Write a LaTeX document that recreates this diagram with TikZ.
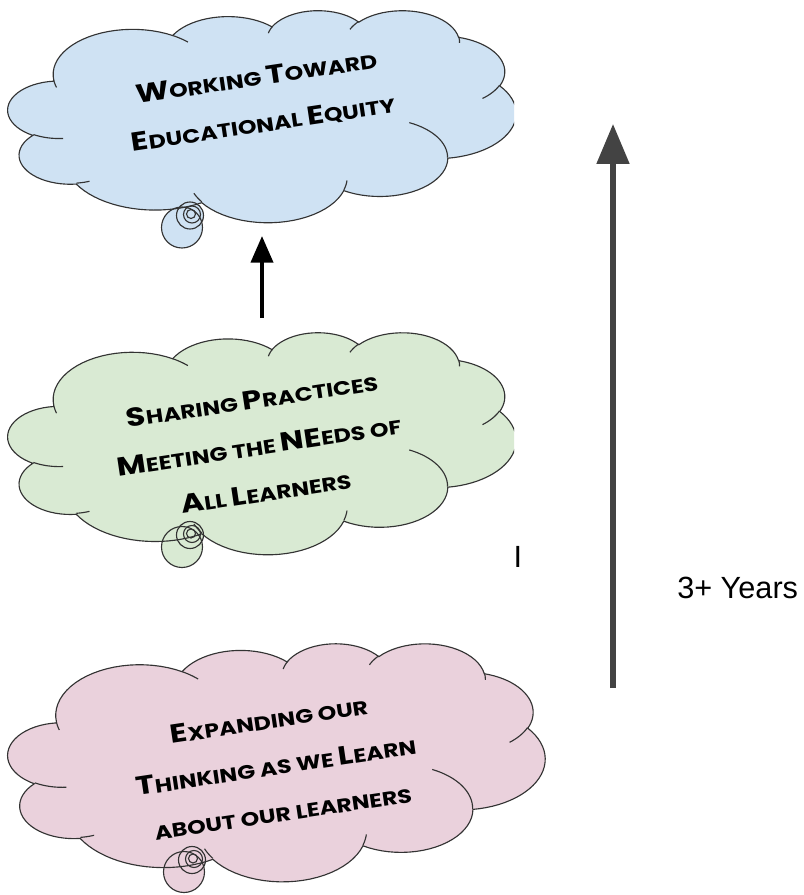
\documentclass[tikz,border=0pt]{standalone}
\usepackage{fontspec}
\setmainfont{Liberation Sans}
\newfontfamily\handfont{Poppins}
\usetikzlibrary{arrows.meta,calc}

\definecolor{cblue}{HTML}{CFE2F3}
\definecolor{cgreen}{HTML}{D9EAD3}
\definecolor{cpink}{HTML}{EAD1DC}
\definecolor{arrowgray}{HTML}{434343}
\definecolor{outl}{HTML}{333333}

% ---- cloud outline builder (OOXML cloud geometry, units = 1/100 of 43200 box) ----
\newcommand\cldstart[2]{\xdef\cldx{#1}\xdef\cldy{#2}\xdef\cldpath{\cldpath (#1,#2)}}
\newcommand\cldarc[5]{% wR hR stAng swAng samples
  \pgfmathsetmacro\cldta{atan2((#1)*sin(#3),(#2)*cos(#3))}%
  \pgfmathsetmacro\cldtb{atan2((#1)*sin((#3)+(#4)),(#2)*cos((#3)+(#4)))}%
  \pgfmathsetmacro\cldd{\cldtb-\cldta}%
  \pgfmathsetmacro\cldd{((#4)>0 && \cldd<0) ? \cldd+360 : (((#4)<0 && \cldd>0) ? \cldd-360 : \cldd)}%
  \pgfmathsetmacro\cldcx{\cldx-(#1)*cos(\cldta)}%
  \pgfmathsetmacro\cldcy{\cldy-(#2)*sin(\cldta)}%
  \foreach \k in {1,...,#5}{%
    \pgfmathsetmacro\cldt{\cldta+\cldd*\k/#5}%
    \pgfmathsetmacro\cldpx{\cldcx+(#1)*cos(\cldt)}%
    \pgfmathsetmacro\cldpy{\cldcy+(#2)*sin(\cldt)}%
    \xdef\cldpath{\cldpath -- (\cldpx,\cldpy)}%
  }%
  \pgfmathsetmacro\cldnx{\cldcx+(#1)*cos(\cldta+\cldd)}%
  \pgfmathsetmacro\cldny{\cldcy+(#2)*sin(\cldta+\cldd)}%
  \xdef\cldx{\cldnx}\xdef\cldy{\cldny}%
}

\xdef\cldpath{}
\cldstart{39}{143.7}
\cldarc{67.53}{91.90}{-190.48748}{123.78053}{24}
\cldarc{53.33}{72.67}{-144.10238}{89.94523}{20}
\cldarc{43.65}{59.45}{-145.80792}{99.72302}{20}
\cldarc{48.57}{65.95}{-130.98607}{117.24173}{22}
\cldarc{53.33}{72.73}{-78.70888}{109.02692}{22}
\cldarc{67.75}{92.20}{-46.26725}{130.269}{26}
\cldarc{57.85}{78.67}{0.62502}{114.03333}{22}
\cldarc{67.52}{92.15}{22.4516}{115.17255}{24}
\cldarc{77.20}{105.43}{66.24263}{75.71102}{20}
\cldarc{43.60}{59.18}{-274.94208}{146.73557}{24}
\cldarc{43.45}{59.45}{-246.8285}{152.51885}{24}
\global\let\cloudouter\cldpath

\xdef\cldpath{}
\cldstart{46.93}{261.77}\cldarc{43.45}{59.45}{86.742}{26.4295}{8}
\cldstart{69.28}{348.99}\cldarc{43.60}{59.18}{73.61047}{11.44747}{6}
\cldstart{164.78}{390.90}\cldarc{67.52}{92.15}{137.62415}{14.0811}{6}
\cldstart{288.27}{347.51}\cldarc{67.52}{92.15}{6.45327}{15.99835}{6}
\cldstart{341.29}{229.54}\cldarc{57.85}{78.67}{-70.29235}{70.91737}{16}
\cldstart{417.98}{153.54}\cldarc{53.33}{72.73}{30.31803}{27.7515}{8}
\cldstart{383.24}{54.26}\cldarc{48.57}{65.95}{-13.74433}{14.8589}{6}
\cldstart{290.78}{39.52}\cldarc{48.57}{65.95}{-149.18145}{18.19537}{6}
\cldstart{221.41}{47.20}\cldarc{43.65}{59.45}{-163.49427}{17.68635}{6}
\cldstart{140.00}{51.92}\cldarc{67.53}{91.90}{-66.70695}{12.31935}{6}
\cldstart{41.27}{157.89}\cldarc{67.53}{91.90}{157.65435}{11.85817}{6}
\global\let\cloudinner\cldpath

\tikzset{
  cloudline/.style={draw=outl, line width=0.85pt},
  handtext/.style={font=\handfont\bfseries\fontsize{14.5}{35}\selectfont, align=center,
                   rotate=8.5, xscale=1.22, text=black, inner sep=0pt},
  bigarrow/.style={draw=arrowgray, line width=3.9pt, -{Triangle[length=30pt, width=24pt]}},
  smallarrow/.style={draw=black, line width=3pt, -{Triangle[length=20pt, width=16.5pt]}},
  plainlabel/.style={font=\fontsize{23}{27}\selectfont, text=black, inner sep=0pt}
}
\newcommand\BL[1]{{\fontsize{19.5}{35}\selectfont #1}}

% #1 left, #2 top, #3 width, #4 height, #5 fill, #6 bubble x, #7 bubble y
\newcommand\drawcloud[7]{%
  \begin{scope}[shift={(#1,#2)}, xscale=#3/432, yscale=#4/432]
    \edef\cldtmp{\noexpand\path[fill=#5] \cloudouter -- cycle;}\cldtmp
  \end{scope}
  \fill[#5] (#6,#7) circle (20.5);
  \fill[#5] ($(#6,#7)+(8,-12)$) circle (13.5);
  \begin{scope}[shift={(#1,#2)}, xscale=#3/432, yscale=#4/432]
    \edef\cldtmp{\noexpand\path[cloudline] \cloudouter -- cycle;}\cldtmp
    \edef\cldtmp{\noexpand\path[cloudline] \cloudinner;}\cldtmp
  \end{scope}
  \draw[cloudline] (#6,#7) circle (20.5);
  \draw[cloudline] ($(#6,#7)+(8,-12)$) circle (13.5);
  \draw[cloudline] ($(#6,#7)+(10,-13)$) circle (8.5);
  \draw[cloudline] ($(#6,#7)+(9,-13.5)$) circle (4.5);
}

\begin{document}
\begin{tikzpicture}[x=0.75pt, y=-0.75pt]
\useasboundingbox (0,0) rectangle (803,895);

\begin{scope}
  \clip (0,0) rectangle (514,895);
  \drawcloud{8}{10}{508}{212}{cblue}{182}{227.5}
  \drawcloud{8}{332}{508}{222}{cgreen}{182}{547}
\end{scope}
\drawcloud{8}{643}{537}{238}{cpink}{184}{872}

\node[handtext] (eq) at (260,101)
  {\BL{W}ORKING \BL{T}OWARD\\\BL{E}DUCATIONAL \BL{E}QUITY};
\node[handtext] (share) at (259,446)
  {\BL{S}HARING \BL{P}RACTICES\\\BL{M}EETING THE \BL{NE}EDS OF\\\BL{A}LL \BL{L}EARNERS};
\node[handtext] (expand) at (276,766)
  {\BL{E}XPANDING OUR\\\BL{T}HINKING AS WE \BL{L}EARN\\ABOUT OUR LEARNERS};

\coordinate (midtop) at (262,318);
\coordinate (topbottom) at (262,236);
\draw[smallarrow] (midtop) -- (topbottom);

\coordinate (timestart) at (613,688);
\coordinate (timeend) at (613,124);
\draw[bigarrow] (timestart) -- (timeend);

\node[plainlabel, anchor=west] (years) at (677,588) {3+ Years};
\node[plainlabel] (cursor) at (518,557) {I};
\end{tikzpicture}
\end{document}
